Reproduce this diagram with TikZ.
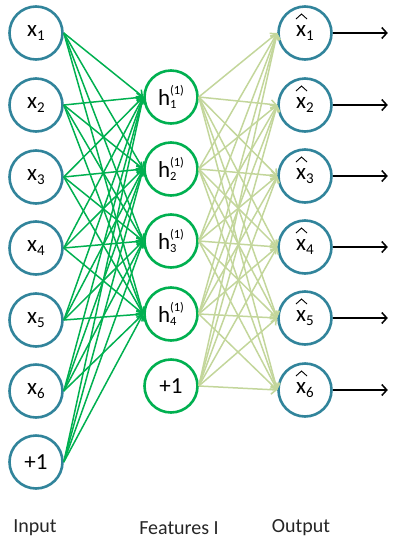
\documentclass[tikz,border=0pt]{standalone}
\usepackage{fontspec}
\setmainfont{Carlito}
\usetikzlibrary{arrows.meta}
\definecolor{inblue}{HTML}{31849B}
\definecolor{hgreen}{HTML}{00B050}
\definecolor{lgreen}{HTML}{C3D69B}
\newcommand\hlab[1]{h\raisebox{-3pt}{\vbox{\fontsize{12.5}{14.5}\selectfont\lineskiplimit=-20pt\hbox{(1)}\hbox{#1}}}}
\newcommand\xsub[1]{x\raisebox{-0.2em}{\fontsize{15}{15}\selectfont #1}}
\tikzset{
  neuron/.style={circle,line width=2.6pt,minimum size=53pt,inner sep=0pt,fill=white,font=\fontsize{23}{23}\selectfont},
  inneuron/.style={neuron,draw=inblue},
  hidneuron/.style={neuron,draw=hgreen},
  outneuron/.style={neuron,draw=inblue},
  edgeA/.style={hgreen,line width=1.5pt,-{Straight Barb[length=5pt,width=9pt]}},
  edgeB/.style={lgreen,line width=1.5pt,-{Straight Barb[length=5pt,width=9pt]}},
  outarrow/.style={black,line width=1.5pt,-{Straight Barb[length=5pt,width=11pt]}},
  hatline/.style={black,line width=0.9pt},
  caption/.style={font=\fontsize{20}{20}\selectfont,text=black!85}
}
\begin{document}
\begin{tikzpicture}[x=1pt,y=-1pt]
\useasboundingbox (0,0) rectangle (400,547);
% input layer
\node[inneuron] (i1) at (36,33) {\xsub{1}};
\node[inneuron] (i2) at (36,105) {\xsub{2}};
\node[inneuron] (i3) at (36,177) {\xsub{3}};
\node[inneuron] (i4) at (36,248) {\xsub{4}};
\node[inneuron] (i5) at (36,320) {\xsub{5}};
\node[inneuron] (i6) at (36,391) {\xsub{6}};
\node[inneuron] (i7) at (36,462) {+1};
% hidden layer
\node[hidneuron] (h1) at (171,97) {\hlab{1}};
\node[hidneuron] (h2) at (171,169) {\hlab{2}};
\node[hidneuron] (h3) at (171,241) {\hlab{3}};
\node[hidneuron] (h4) at (171,314) {\hlab{4}};
\node[hidneuron] (h5) at (171,386) {+1};
% output layer
\node[outneuron] (o1) at (305,33) {\xsub{1}};
\node[outneuron] (o2) at (305,105) {\xsub{2}};
\node[outneuron] (o3) at (305,176) {\xsub{3}};
\node[outneuron] (o4) at (305,247) {\xsub{4}};
\node[outneuron] (o5) at (305,318) {\xsub{5}};
\node[outneuron] (o6) at (305,390) {\xsub{6}};
% edges input -> hidden
\foreach \i in {1,...,7}
  \foreach \j in {1,...,4}
    \draw[edgeA] (i\i.east) -- (h\j.west);
% edges hidden -> output
\foreach \i in {1,...,5}
  \foreach \j in {1,...,6}
    \draw[edgeB] (h\i.east) -- (o\j.west);
% hats and output arrows
\foreach \j in {1,...,6}{
  \draw[hatline] ([shift={(-9,-14)}]o\j.center) -- ([shift={(-3.5,-19)}]o\j.center) -- ([shift={(2,-14)}]o\j.center);
  \coordinate (e\j) at ([xshift=55pt]o\j.east);
  \draw[outarrow] (o\j.east) -- (e\j);
}
% captions
\node[caption] (c1) at (35,528) {Input};
\node[caption] (c2) at (179,528) {Features I};
\node[caption] (c3) at (301,528) {Output};
\end{tikzpicture}
\end{document}
